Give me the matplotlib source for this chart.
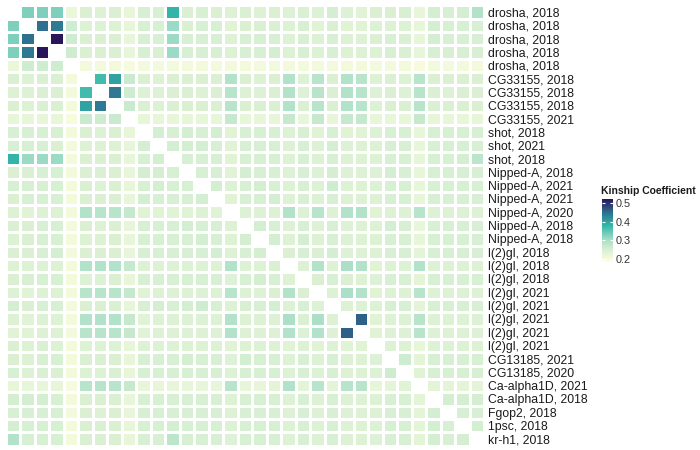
import numpy as np
import matplotlib
matplotlib.use("Agg")
import matplotlib.pyplot as plt
from matplotlib.colors import LinearSegmentedColormap, Normalize
from matplotlib.cm import ScalarMappable

plt.rcParams['font.family'] = ['Liberation Sans', 'DejaVu Sans']

# sample labels, top to bottom (same order for columns, left to right)
samples = [
    "drosha, 2018", "drosha, 2018", "drosha, 2018", "drosha, 2018", "drosha, 2018",
    "CG33155, 2018", "CG33155, 2018", "CG33155, 2018", "CG33155, 2021",
    "shot, 2018", "shot, 2021", "shot, 2018",
    "Nipped-A, 2018", "Nipped-A, 2021", "Nipped-A, 2021", "Nipped-A, 2020",
    "Nipped-A, 2018", "Nipped-A, 2018",
    "l(2)gl, 2018", "l(2)gl, 2018", "l(2)gl, 2018", "l(2)gl, 2021", "l(2)gl, 2021",
    "l(2)gl, 2021", "l(2)gl, 2021", "l(2)gl, 2021",
    "CG13185, 2021", "CG13185, 2020", "Ca-alpha1D, 2021", "Ca-alpha1D, 2018",
    "Fgop2, 2018", "1psc, 2018", "kr-h1, 2018",
]

# kinship coefficients, lower triangle (row i holds columns 0..i-1)
kinship_lower = [
    [],
    [0.33],
    [0.33, 0.45],
    [0.33, 0.44, 0.52],
    [0.22, 0.26, 0.26, 0.26],
    [0.245, 0.24, 0.245, 0.245, 0.205],
    [0.24, 0.24, 0.245, 0.245, 0.205, 0.37],
    [0.245, 0.24, 0.245, 0.245, 0.205, 0.40, 0.44],
    [0.225, 0.225, 0.225, 0.225, 0.20, 0.265, 0.26, 0.265],
    [0.25, 0.25, 0.25, 0.25, 0.205, 0.245, 0.24, 0.245, 0.225],
    [0.25, 0.25, 0.25, 0.245, 0.205, 0.24, 0.24, 0.24, 0.225, 0.255],
    [0.38, 0.31, 0.31, 0.31, 0.205, 0.245, 0.245, 0.245, 0.225, 0.25, 0.255],
    [0.245, 0.245, 0.25, 0.25, 0.205, 0.245, 0.245, 0.245, 0.225, 0.255, 0.255, 0.25],
    [0.25, 0.25, 0.25, 0.25, 0.205, 0.245, 0.24, 0.245, 0.225, 0.25, 0.255, 0.25, 0.25],
    [0.245, 0.25, 0.25, 0.25, 0.205, 0.245, 0.245, 0.245, 0.225, 0.255, 0.25, 0.25, 0.25, 0.255],
    [0.24, 0.235, 0.24, 0.24, 0.205, 0.29, 0.285, 0.285, 0.27, 0.235, 0.235, 0.235, 0.235, 0.24,
     0.235],
    [0.245, 0.245, 0.25, 0.25, 0.205, 0.245, 0.24, 0.245, 0.225, 0.25, 0.25, 0.25, 0.255, 0.25,
     0.25, 0.24],
    [0.24, 0.245, 0.25, 0.25, 0.205, 0.24, 0.24, 0.245, 0.225, 0.25, 0.25, 0.25, 0.25, 0.255,
     0.25, 0.24, 0.255],
    [0.245, 0.245, 0.25, 0.255, 0.205, 0.245, 0.245, 0.245, 0.225, 0.25, 0.25, 0.25, 0.25, 0.25,
     0.255, 0.24, 0.25, 0.255],
    [0.24, 0.24, 0.24, 0.24, 0.205, 0.29, 0.29, 0.29, 0.27, 0.24, 0.24, 0.24, 0.24, 0.24,
     0.24, 0.29, 0.24, 0.24, 0.245],
    [0.245, 0.25, 0.25, 0.25, 0.205, 0.24, 0.24, 0.245, 0.225, 0.25, 0.25, 0.25, 0.25, 0.25,
     0.25, 0.24, 0.25, 0.255, 0.25, 0.24],
    [0.24, 0.235, 0.24, 0.24, 0.205, 0.285, 0.285, 0.285, 0.27, 0.235, 0.24, 0.24, 0.24, 0.24,
     0.24, 0.285, 0.24, 0.24, 0.245, 0.29, 0.245],
    [0.255, 0.245, 0.25, 0.25, 0.205, 0.245, 0.245, 0.245, 0.225, 0.25, 0.255, 0.25, 0.255, 0.26,
     0.25, 0.24, 0.25, 0.25, 0.255, 0.24, 0.25, 0.24],
    [0.24, 0.235, 0.24, 0.24, 0.205, 0.29, 0.29, 0.29, 0.27, 0.235, 0.24, 0.24, 0.24, 0.24,
     0.24, 0.29, 0.24, 0.24, 0.24, 0.30, 0.245, 0.30, 0.24],
    [0.235, 0.235, 0.24, 0.24, 0.205, 0.285, 0.285, 0.285, 0.27, 0.235, 0.24, 0.24, 0.24, 0.24,
     0.24, 0.29, 0.24, 0.24, 0.24, 0.29, 0.24, 0.29, 0.24, 0.46],
    [0.245, 0.24, 0.245, 0.24, 0.205, 0.24, 0.24, 0.24, 0.225, 0.24, 0.24, 0.24, 0.24, 0.24,
     0.24, 0.235, 0.24, 0.24, 0.24, 0.235, 0.24, 0.235, 0.24, 0.235, 0.235],
    [0.245, 0.24, 0.25, 0.25, 0.205, 0.245, 0.245, 0.245, 0.225, 0.25, 0.25, 0.25, 0.255, 0.25,
     0.25, 0.24, 0.255, 0.25, 0.25, 0.24, 0.25, 0.24, 0.25, 0.24, 0.24, 0.24],
    [0.25, 0.24, 0.245, 0.245, 0.205, 0.24, 0.24, 0.245, 0.225, 0.25, 0.25, 0.25, 0.25, 0.25,
     0.25, 0.24, 0.25, 0.25, 0.25, 0.24, 0.25, 0.24, 0.25, 0.24, 0.24, 0.24, 0.26],
    [0.225, 0.225, 0.225, 0.225, 0.20, 0.285, 0.285, 0.285, 0.27, 0.225, 0.225, 0.225, 0.225, 0.225,
     0.225, 0.285, 0.225, 0.225, 0.23, 0.29, 0.23, 0.285, 0.23, 0.285, 0.285, 0.225, 0.23, 0.235],
    [0.255, 0.255, 0.255, 0.25, 0.205, 0.245, 0.245, 0.245, 0.225, 0.25, 0.25, 0.25, 0.25, 0.25,
     0.25, 0.24, 0.25, 0.25, 0.25, 0.24, 0.25, 0.24, 0.25, 0.24, 0.24, 0.24, 0.25, 0.25, 0.23],
    [0.25, 0.25, 0.25, 0.25, 0.205, 0.245, 0.24, 0.245, 0.225, 0.25, 0.25, 0.25, 0.25, 0.25,
     0.25, 0.24, 0.25, 0.25, 0.25, 0.24, 0.25, 0.24, 0.25, 0.24, 0.24, 0.24, 0.25, 0.25, 0.23,
     0.255],
    [0.255, 0.25, 0.25, 0.25, 0.205, 0.245, 0.245, 0.245, 0.225, 0.25, 0.25, 0.255, 0.25, 0.25,
     0.25, 0.24, 0.25, 0.25, 0.25, 0.24, 0.25, 0.24, 0.25, 0.24, 0.24, 0.24, 0.25, 0.25, 0.23,
     0.255, 0.25],
    [0.29, 0.25, 0.25, 0.25, 0.205, 0.245, 0.245, 0.245, 0.225, 0.25, 0.25, 0.28, 0.25, 0.25,
     0.25, 0.24, 0.25, 0.25, 0.25, 0.24, 0.25, 0.24, 0.25, 0.24, 0.24, 0.24, 0.25, 0.25, 0.23,
     0.255, 0.25, 0.255],
]

cbar_ticks = [0.2, 0.3, 0.4, 0.5]

n = len(samples)
mat = np.full((n, n), np.nan)
for i, row in enumerate(kinship_lower):
    for j, v in enumerate(row):
        mat[i, j] = v
        mat[j, i] = v

vmin, vmax = 0.185, 0.52
stops = [(0.185, '#ffffe0'), (0.25, '#d7efd2'), (0.30, '#aadfc8'),
         (0.38, '#32b6a8'), (0.45, '#2f6f8f'), (0.52, '#28155a')]
cmap = LinearSegmentedColormap.from_list(
    'kin', [((v - vmin) / (vmax - vmin), c) for v, c in stops])
cmap.set_bad('white')
norm = Normalize(vmin=vmin, vmax=vmax)

fig = plt.figure(figsize=(7, 4.5), dpi=100)
ax = fig.add_axes([5.5 / 700, 1 - 445.6 / 450, 478.5 / 700, 440.2 / 450])
ax.pcolormesh(np.ma.masked_invalid(mat), cmap=cmap, norm=norm,
              edgecolors='white', linewidth=1.0)
ax.set_xlim(0, n)
ax.set_ylim(n, 0)
ax.set_xticks([])
ax.yaxis.tick_right()
ax.set_yticks(np.arange(n) + 0.5)
ax.set_yticklabels(samples, fontsize=8.8, color='#1a1a1a')
ax.tick_params(axis='y', length=0, pad=3)
for s in ax.spines.values():
    s.set_visible(False)

# legend colour bar
cax = fig.add_axes([602 / 700, 1 - 262 / 450, 11 / 700, 63 / 450])
cb = fig.colorbar(ScalarMappable(norm=norm, cmap=cmap), cax=cax, ticks=cbar_ticks)
cb.outline.set_visible(False)
cax.yaxis.set_ticks_position('both')
cax.tick_params(axis='y', direction='in', color='white', length=2.5, width=0.8,
                labelleft=False, labelright=True, labelsize=7.8, labelcolor='#333333', pad=2)
cax.set_yticklabels([f"{t:.1f}" for t in cbar_ticks])
fig.text(601 / 700, 1 - 191 / 450, "Kinship Coefficient", fontsize=7.5,
         fontweight='bold', ha='left', va='center', color='#1a1a1a')

fig.savefig("out.png", dpi=100, facecolor='white')
